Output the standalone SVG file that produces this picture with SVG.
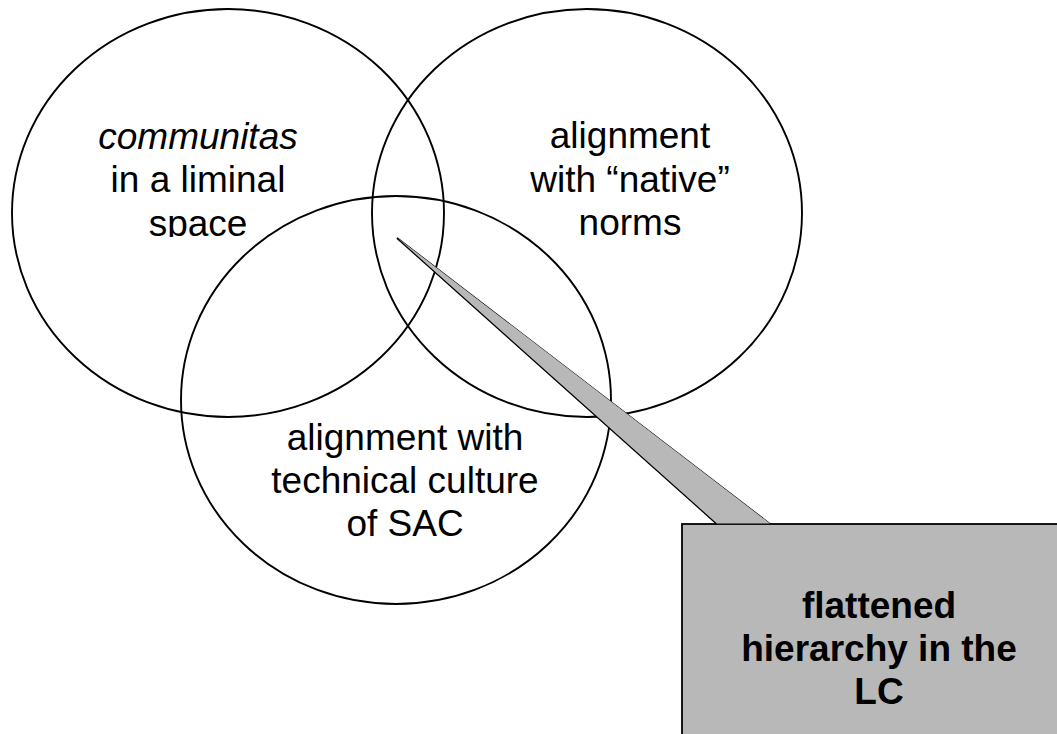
<svg xmlns="http://www.w3.org/2000/svg" width="1057" height="734" viewBox="0 0 1057 734">
<style>
.c{fill:none;stroke:#000;stroke-width:1.9}
.t{font-family:"Liberation Sans",Arial,sans-serif;font-size:37px;fill:#000;text-anchor:middle}
.b{font-weight:bold}
.call{fill:#b8b8b8;stroke:#000;stroke-width:1.8;stroke-linejoin:miter}
</style>
<defs>
<clipPath id="clipL"><rect x="0" y="0" width="1057" height="237"/></clipPath>
</defs>
<rect width="1057" height="734" fill="#fff"/>
<g id="circle-communitas">
<ellipse class="c" cx="228" cy="213" rx="216" ry="204"/>
<text class="t" x="198" y="149"><tspan font-style="italic">communitas</tspan></text>
<text class="t" x="198" y="192">in a liminal</text>
<text class="t" x="198" y="236" clip-path="url(#clipL)">space</text>
</g>
<g id="circle-native">
<ellipse class="c" cx="587" cy="213" rx="215" ry="204"/>
<text class="t" x="630" y="148">alignment</text>
<text class="t" x="630" y="192">with “native”</text>
<text class="t" x="630" y="235">norms</text>
</g>
<g id="circle-technical">
<ellipse class="c" cx="396" cy="400" rx="215" ry="204"/>
<text class="t" x="405" y="450">alignment with</text>
<text class="t" x="405" y="493">technical culture</text>
<text class="t" x="405" y="536">of SAC</text>
</g>
<g id="connectors">
<polygon class="call" points="397,238 717,524 770,524"/>
</g>
<g id="callout-flattened">
<rect class="call" x="682" y="524" width="394" height="250"/>
<polygon fill="#b8b8b8" points="397,238 717,524 770,524" transform="translate(0,-0.5)" stroke="none"/>
<text class="t b" x="879" y="618">flattened</text>
<text class="t b" x="879" y="661">hierarchy in the</text>
<text class="t b" x="879" y="704">LC</text>
</g>
</svg>
